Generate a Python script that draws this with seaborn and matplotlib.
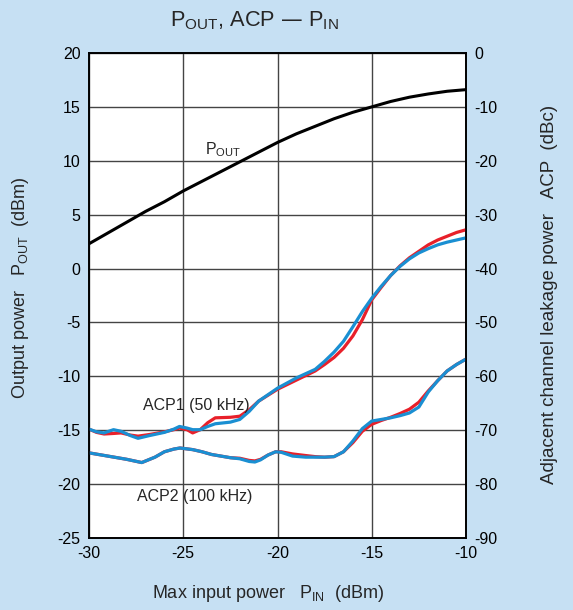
import matplotlib
matplotlib.use("Agg")
import matplotlib.pyplot as plt
import seaborn as sns
import pandas as pd

# ---- data ----
pout_x = [-30, -29, -28, -27, -26, -25, -24, -23, -22, -21, -20,
          -19, -18, -17, -16, -15, -14, -13, -12, -11, -10]
pout_y = [2.3, 3.3, 4.3, 5.3, 6.2, 7.2, 8.1, 9.0, 9.9, 10.8, 11.7,
          12.5, 13.2, 13.9, 14.5, 15.0, 15.5, 15.9, 16.2, 16.45, 16.6]

acp1_x = [-30, -29.6, -29.2, -28.7, -28.3, -27.8, -27.4, -26.8, -26.0, -25.5, -25.2,
          -24.8, -24.5, -24.1, -23.7, -23.3, -22.5, -22.0, -21.5, -21.0, -20.5, -20.0,
          -19.0, -18.0, -17.5, -17.0, -16.5, -16.0, -15.5, -15.0, -14.5, -14.0, -13.5,
          -13.0, -12.5, -12.0, -11.5, -11.0, -10.5, -10.0]
acp1_red = [-69.8, -70.4, -70.7, -70.6, -70.5, -70.9, -71.1, -70.8, -70.3, -69.9, -69.6,
            -69.9, -70.5, -69.9, -68.6, -67.7, -67.6, -67.4, -66.2, -64.6, -63.5, -62.4,
            -60.7, -59.0, -57.8, -56.5, -54.8, -52.5, -49.5, -45.8, -43.5, -41.3, -39.5,
            -38.0, -36.8, -35.6, -34.7, -34.0, -33.3, -32.8]
acp1_blue = [-69.8, -70.3, -70.5, -69.9, -70.2, -71.0, -71.5, -71.0, -70.4, -69.8, -69.3,
             -69.6, -69.9, -69.9, -69.3, -68.8, -68.5, -68.0, -66.5, -64.6, -63.4, -62.2,
             -60.3, -58.7, -57.2, -55.5, -53.5, -50.8, -48.0, -45.5, -43.3, -41.3, -39.6,
             -38.2, -37.1, -36.3, -35.6, -35.1, -34.7, -34.3]

acp2_x = [-30, -29, -28, -27.2, -26.5, -26, -25.5, -25.17, -24.5, -24, -23.5, -23,
          -22.5, -22, -21.5, -21.2, -20.9, -20.5, -20.1, -19.8, -19.2, -18.5, -18,
          -17.5, -17, -16.5, -16, -15.5, -15, -14.5, -14, -13.5, -13, -12.5, -12,
          -11.5, -11, -10.5, -10]
acp2_red = [-74.2, -74.8, -75.4, -76.0, -75.0, -74.0, -73.5, -73.3, -73.6, -74.0, -74.5,
            -74.8, -75.1, -75.2, -75.6, -75.7, -75.4, -74.6, -74.0, -74.0, -74.4, -74.7,
            -74.9, -75.0, -74.9, -74.0, -72.3, -70.2, -68.9, -68.2, -67.6, -66.9, -66.1,
            -64.8, -62.7, -60.8, -59.0, -57.8, -56.8]
acp2_blue = [-74.2, -74.8, -75.4, -76.0, -75.0, -74.0, -73.5, -73.3, -73.6, -74.0, -74.5,
             -74.8, -75.1, -75.3, -75.8, -75.9, -75.5, -74.6, -74.0, -74.1, -74.8, -75.0,
             -75.0, -75.0, -74.9, -74.0, -72.0, -69.7, -68.3, -68.0, -67.7, -67.3, -66.8,
             -65.7, -62.9, -60.8, -59.0, -57.8, -56.8]

x_ticks = [-30, -25, -20, -15, -10]
left_ticks = [-25, -20, -15, -10, -5, 0, 5, 10, 15, 20]
right_ticks = [-90, -80, -70, -60, -50, -40, -30, -20, -10, 0]

RED = "#e8202a"
BLUE = "#1a8fd2"
BG = "#c6e0f3"

sns.set_theme(style="white")
plt.rcParams["font.family"] = ["Liberation Sans", "DejaVu Sans"]
plt.rcParams["mathtext.default"] = "regular"

W, H = 573, 610
fig = plt.figure(figsize=(W / 100, H / 100), dpi=100, facecolor=BG)
ax = fig.add_axes([89 / W, 1 - 538 / H, (466 - 89) / W, (538 - 53) / H])
ax.set_facecolor("white")
ax2 = ax.twinx()

df_p = pd.DataFrame({"x": pout_x, "y": pout_y})
sns.lineplot(data=df_p, x="x", y="y", ax=ax, color="black", lw=2.2, zorder=5)

for yv, col in ((acp1_red, RED), (acp1_blue, BLUE)):
    sns.lineplot(data=pd.DataFrame({"x": acp1_x, "y": yv}), x="x", y="y",
                 ax=ax2, color=col, lw=2.3)
for yv, col in ((acp2_red, RED), (acp2_blue, BLUE)):
    sns.lineplot(data=pd.DataFrame({"x": acp2_x, "y": yv}), x="x", y="y",
                 ax=ax2, color=col, lw=2.3)

ax.set_xlim(-30, -10)
ax.set_ylim(-25, 20)
ax2.set_ylim(-90, 0)
ax.set_xticks(x_ticks)
ax.set_xticklabels([str(v) for v in x_ticks])
ax.set_yticks(left_ticks)
ax.set_yticklabels([str(v) for v in left_ticks])
ax2.set_yticks(right_ticks)
ax2.set_yticklabels([str(v) for v in right_ticks])

ax.grid(True, color="#444444", lw=1.0)
ax.set_axisbelow(True)
for a in (ax, ax2):
    a.tick_params(length=0, labelsize=11.5, colors="black", pad=6)
    for s in a.spines.values():
        s.set_color("black")
        s.set_linewidth(1.2)
ax2.grid(False)
ax.set_xlabel("")
ax.set_ylabel("")
ax2.set_ylabel("")

fig.text(268 / W, 1 - 594 / H, "Max input power   $P_{IN}$  (dBm)",
         fontsize=13, ha="center", va="center")
fig.text(21 / W, 1 - 288 / H, "Output power   $P_{OUT}$  (dBm)",
         fontsize=13, ha="center", va="center", rotation=90)
fig.text(550 / W, 1 - 294 / H, "Adjacent channel leakage power   ACP  (dBc)",
         fontsize=13.5, ha="center", va="center", rotation=90)

fig.text(254 / W, 1 - 21 / H, "$P_{OUT}$, ACP — $P_{IN}$",
         ha="center", va="center", fontsize=15.7)

ax.text(-22.9, 11.0, "$P_{OUT}$", fontsize=11.5, ha="center", va="center")
ax2.text(-24.3, -65.4, "ACP1 (50 kHz)", fontsize=11.5, ha="center", va="center")
ax2.text(-24.4, -82.3, "ACP2 (100 kHz)", fontsize=11.5, ha="center", va="center")

fig.savefig("out.png", dpi=100, facecolor=BG)
